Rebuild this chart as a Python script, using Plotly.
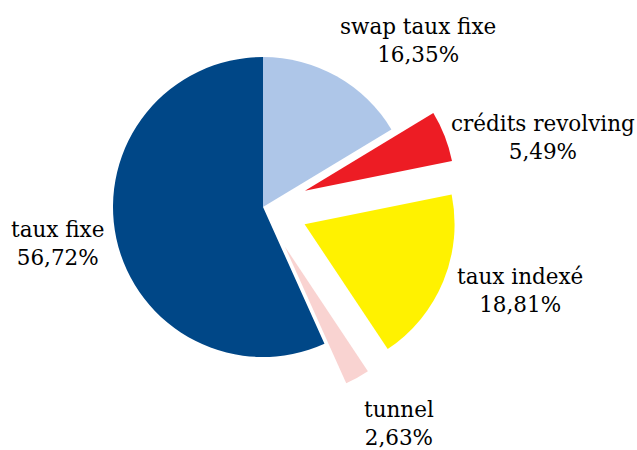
import plotly.graph_objects as go

# Répartition de la dette par type de taux
labels = ["swap taux fixe", "crédits revolving", "taux indexé", "tunnel", "taux fixe"]
values = [16.35, 5.49, 18.81, 2.63, 56.72]
pulls = [0, 0.3, 0.3, 0.3, 0]
colors = ["#AEC6E8", "#ED1C24", "#FFF200", "#F9D3D1", "#004787"]

# label block centres, in pixels from the top-left corner
label_pos = [(418, 40), (543, 137), (520, 290), (399, 423), (57, 243)]

W, H = 637, 450
FONT = "DejaVu Serif"

fig = go.Figure(
    go.Pie(
        labels=labels,
        values=values,
        pull=pulls,
        sort=False,
        direction="clockwise",
        rotation=0,
        marker=dict(colors=colors, line=dict(width=0)),
        textinfo="none",
        hoverinfo="skip",
        showlegend=False,
        domain=dict(x=[68 / W, 458 / W], y=[1 - 402 / H, 1 - 12 / H]),
    )
)

for lab, val, (px, py) in zip(labels, values, label_pos):
    pct = f"{val:.2f}".replace(".", ",") + "%"
    fig.add_annotation(
        text=f"{lab}<br>{pct}",
        x=px / W,
        y=1 - py / H,
        xref="paper",
        yref="paper",
        xanchor="center",
        yanchor="middle",
        showarrow=False,
        align="center",
        font=dict(family=FONT, size=21.5, color="#000000"),
    )

fig.update_layout(
    width=W,
    height=H,
    margin=dict(l=0, r=0, t=0, b=0),
    paper_bgcolor="white",
    plot_bgcolor="white",
    font=dict(family=FONT),
)

fig.write_html("out.html")
